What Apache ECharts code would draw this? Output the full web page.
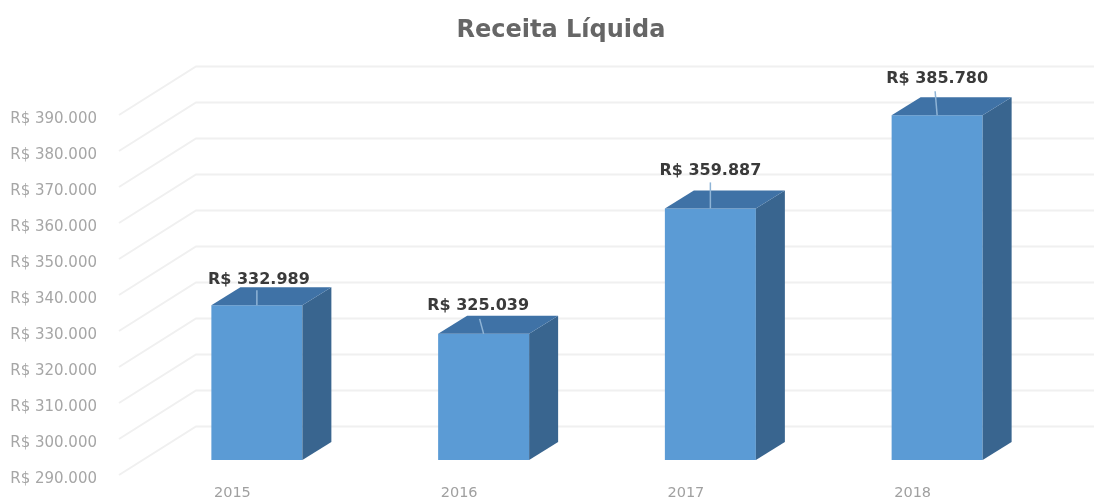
<!DOCTYPE html>
<html>
<head>
<meta charset="utf-8">
<style>html,body{margin:0;padding:0;background:#fff;overflow:hidden}#c{width:1094px;height:501px;filter:blur(0.6px)}</style>
<script src="https://cdn.jsdelivr.net/npm/echarts@6/dist/echarts.min.js"></script>
</head>
<body>
<div id="c"></div>
<script>
const titleText = 'Receita Líquida';
const years = ['2015', '2016', '2017', '2018'];
const netRevenue = [332989, 325039, 359887, 385780];
const axisTicks = [290000, 300000, 310000, 320000, 330000, 340000, 350000, 360000, 370000, 380000, 390000];

function brl(v) {
  return 'R$ ' + String(v).replace(/(\d)(?=(\d{3})$)/, '$1.');
}

// 3D look: pixel offsets used on top of the axis scale
const wall = { dx: 77, dy: -48.5 };
const front = { dx: 24.5, dy: -15 };
const depth = { dx: 29, dy: -18 };
const labelNudge = [[2, -25, 0, -15], [-5.5, -28, -4, -15], [0, -38, 0, -26], [0, -36, -2, -24]];
const barWidth = 91;

const chart = echarts.init(document.getElementById('c'));
chart.setOption({
  animation: false,
  backgroundColor: '#fff',
  title: {
    text: titleText, left: 556, top: 14, textAlign: 'center',
    textStyle: { fontFamily: 'DejaVu Sans', fontSize: 24, fontWeight: 'bold', color: '#666666' }
  },
  grid: { left: 119, right: 68, top: 115, bottom: 26 },
  xAxis: {
    type: 'category', data: years,
    axisLine: { show: false }, axisTick: { show: false },
    axisLabel: { margin: 11, fontFamily: 'DejaVu Sans', fontSize: 14.5, color: '#a0a0a0' }
  },
  yAxis: {
    type: 'value', min: 290000, max: 390000, interval: 10000,
    splitLine: { show: false }, axisLine: { show: false }, axisTick: { show: false },
    axisLabel: {
      margin: 22, fontFamily: 'DejaVu Sans', fontSize: 15, color: '#a6a6a6',
      verticalAlign: 'top', lineHeight: 9,
      formatter: brl
    }
  },
  series: [
    {
      type: 'custom', z: 1, silent: true,
      data: axisTicks.map(v => [0, v]),
      encode: { x: 0, y: 1 },
      renderItem(params, api) {
        const y = api.coord([0, api.value(1)])[1];
        const x = params.coordSys.x;
        return {
          type: 'polyline',
          shape: { points: [[x, y], [x + wall.dx, y + wall.dy], [x + params.coordSys.width + wall.dx, y + wall.dy]] },
          style: { stroke: '#f0f0f0', lineWidth: 2, fill: null }
        };
      }
    },
    {
      type: 'custom', z: 2, silent: true,
      data: netRevenue.map((v, i) => [i, v]),
      encode: { x: 0, y: 1 },
      renderItem(params, api) {
        const i = api.value(0), v = api.value(1);
        const top = api.coord([i, v]);
        const base = api.coord([i, 290000]);
        const l = top[0] + front.dx - barWidth / 2;
        const r = l + barWidth;
        const t = top[1] + front.dy;
        const b = base[1] + front.dy;
        const n = labelNudge[i];
        const cx = top[0] + front.dx;
        return {
          type: 'group',
          children: [
            { type: 'rect', shape: { x: l, y: t, width: barWidth, height: b - t }, style: { fill: '#5b9bd5' } },
            { type: 'polygon', shape: { points: [[r, t], [r + depth.dx, t + depth.dy], [r + depth.dx, b + depth.dy], [r, b]] }, style: { fill: '#39658f' } },
            { type: 'polygon', shape: { points: [[l, t], [l + depth.dx, t + depth.dy], [r + depth.dx, t + depth.dy], [r, t]] }, style: { fill: '#3f72a6' } },
            { type: 'line', shape: { x1: cx, y1: t, x2: cx + n[2], y2: t + n[3] }, style: { stroke: '#8fb4d6', lineWidth: 1.5 } },
            { type: 'text', style: {
                x: cx + n[0], y: t + n[1], text: brl(v), align: 'center', verticalAlign: 'middle',
                fontFamily: 'DejaVu Sans', fontSize: 16, fontWeight: 'bold', fill: '#3a3a3a'
            } }
          ]
        };
      }
    }
  ]
});
</script>
</body>
</html>
